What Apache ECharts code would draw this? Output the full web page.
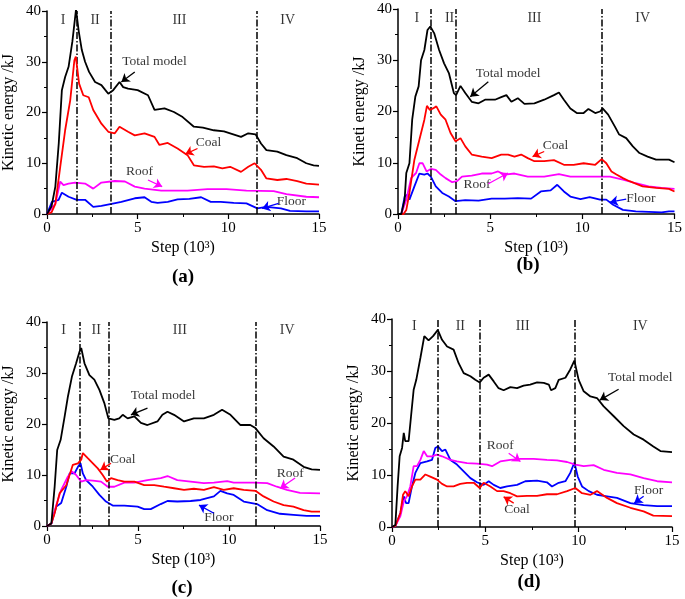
<!DOCTYPE html>
<html>
<head>
<meta charset="utf-8">
<script src="https://cdn.jsdelivr.net/npm/echarts@6/dist/echarts.min.js"></script>
<style>
  html, body { margin: 0; padding: 0; background: #fff; }
  #main { width: 685px; height: 599px; }
</style>
</head>
<body>
<div id="main"></div>
<script>
// ---- data (step in 10^3, kinetic energy in kJ) ----
var totalA = [[0,0],[0.25,1.5],[0.46,5.4],[0.65,14],[0.82,24.4],[1.0,27],[1.19,29],[1.4,34],[1.6,40.3],[1.75,36],[1.92,32.3],[2.1,30],[2.32,28],[2.65,26],[3.0,25.4],[3.2,24.5],[3.38,23.7],[3.65,24.4],[4.0,26],[4.2,25],[4.47,24.7],[5.0,24.4],[5.57,23.4],[5.93,20.5],[6.48,20.8],[7.0,20.1],[7.48,19.1],[8.1,17.2],[8.6,17],[9.2,16.5],[9.76,16.3],[10.1,15.9],[10.7,15.2],[11.1,15.9],[11.5,15.7],[11.8,13.9],[12.1,12.6],[12.7,12.3],[13.2,11.6],[13.8,11],[14.3,10],[14.7,9.6],[15,9.5]];
var coalA = [[0,0],[0.25,0.3],[0.46,2],[0.73,9.3],[1.0,16.5],[1.28,22.4],[1.51,30.3],[1.59,31],[1.77,25.7],[2.0,23.4],[2.3,23],[2.55,20.5],[3.0,17.8],[3.38,16.2],[3.74,15.9],[4.0,17.2],[4.47,16.2],[4.84,15.5],[5.38,15.9],[5.93,15.2],[6.2,13.6],[6.66,14],[7.2,12.9],[7.75,11.6],[8.1,9.6],[8.66,9.3],[9.2,9.4],[9.67,9],[10.1,9.3],[10.7,8.3],[11.1,9.3],[11.45,10],[11.8,8.7],[12.1,7],[12.7,6.7],[13.2,6.9],[13.8,6.5],[14.3,6],[15,5.8]];
var roofA = [[0,0],[0.46,2],[0.73,6.4],[0.91,5.7],[1.19,6],[1.55,6.2],[2.1,6],[2.55,5],[3.0,6.2],[3.74,6.5],[4.3,6.4],[4.84,5.4],[5.38,5],[6.3,4.6],[7.75,4.6],[8.85,4.9],[9.9,4.9],[11.0,4.6],[12.5,4.5],[13.2,3.9],[14.3,3.4],[15,3.3]];
var floorA = [[0,0],[0.27,2.4],[0.64,2.8],[0.82,4.2],[1.19,3.4],[1.64,2.8],[2.1,2.8],[2.55,1.4],[3.0,1.6],[3.56,2],[4.1,2.4],[4.84,3.1],[5.38,3.3],[5.75,2.4],[6.1,2.2],[6.66,2.4],[7.2,2.9],[7.85,3],[8.5,3.3],[9.03,2.4],[9.58,2.4],[10.3,2.2],[11.0,2.1],[11.6,1.1],[12.1,1.4],[12.9,1.1],[13.4,0.6],[14.3,0.5],[15,0.5]];

var totalB = [[0,0],[0.18,0],[0.36,2.8],[0.45,8],[0.62,9.9],[0.77,18.4],[0.94,22.9],[1.12,24.9],[1.25,30],[1.43,32],[1.6,35.9],[1.75,36.6],[1.96,35.3],[2.23,32],[2.5,29.4],[2.76,27.5],[3.03,23.6],[3.15,23.2],[3.39,25],[3.65,23.6],[4.0,21.9],[4.37,21.6],[4.72,22.3],[5.26,22.3],[5.6,22.8],[5.88,23.2],[6.15,21.9],[6.5,22.6],[6.86,21.5],[7.4,21.6],[7.93,22.3],[8.46,23.2],[8.73,23.7],[9.0,22.3],[9.35,20.6],[9.7,19.7],[10.07,19.7],[10.33,20.5],[10.7,19.7],[10.96,20],[11.1,20.6],[11.4,19.4],[11.76,17.1],[12.0,15.5],[12.38,14.8],[12.74,13.2],[13.1,11.9],[13.54,11.2],[14.0,10.6],[14.7,10.6],[15,10.1]];
var coalB = [[0,0],[0.3,0],[0.45,0.8],[0.62,4.1],[0.89,10.6],[1.16,14.5],[1.43,18.4],[1.57,21.1],[1.73,20.3],[1.9,20.6],[2.08,21],[2.32,19.4],[2.58,18.4],[2.85,15.8],[3.12,14.2],[3.39,14.8],[3.65,13.2],[4.0,11.6],[4.54,11.2],[5.08,10.9],[5.6,11.6],[5.97,11.6],[6.32,11.2],[6.68,11.6],[7.04,10.9],[7.4,10.3],[7.93,10.3],[8.46,10.5],[9.0,9.6],[9.53,9.6],[10.07,9.9],[10.7,9.6],[11.05,10.7],[11.3,9.9],[11.58,8.3],[11.85,7.7],[12.2,7],[12.56,6.4],[13.27,5.4],[14.0,5.1],[14.7,4.9],[15,4.4]];
var roofB = [[0,0],[0.18,0],[0.45,2.8],[0.71,7],[0.98,8],[1.16,9.9],[1.34,9.9],[1.55,8.3],[1.78,8.8],[2.05,8.6],[2.32,7.7],[2.58,7],[2.94,6.2],[3.2,6.4],[3.47,7.3],[4.0,7.5],[4.54,7.9],[5.08,7.9],[5.43,8.3],[5.79,7.7],[6.32,7.9],[7.04,7.3],[7.93,7.3],[8.73,7.8],[9.35,7.3],[10.4,7.3],[11.5,7.3],[12.2,6.7],[12.9,6],[13.6,5.4],[14.3,5.1],[15,4.9]];
var floorB = [[0,0],[0.18,0],[0.36,3.4],[0.53,3.8],[0.62,2.8],[0.89,5.4],[1.16,7.9],[1.43,7.7],[1.6,7.9],[1.78,7.3],[2.05,5.4],[2.4,4.1],[2.76,3.4],[3.12,2.5],[3.65,2.7],[4.37,2.6],[5.08,3],[5.79,3],[6.5,3.1],[7.22,3],[7.75,4.4],[8.28,4.6],[8.64,5.7],[9.0,4.4],[9.35,3.4],[9.9,2.9],[10.4,3.3],[10.96,2.8],[11.3,2.8],[11.67,1.8],[12.2,0.8],[12.9,0.5],[14.3,0.3],[14.7,0.5],[15,0.5]];

var totalC = [[0,0],[0.24,0.5],[0.42,7.7],[0.56,14.9],[0.75,16.9],[0.97,21.5],[1.15,25.4],[1.37,29.3],[1.6,31.9],[1.79,34.2],[1.88,34.9],[2.06,31.9],[2.33,29.6],[2.6,28.7],[2.88,26.7],[3.15,24.1],[3.37,21.1],[3.7,20.8],[3.97,21.1],[4.16,21.8],[4.43,21.1],[4.8,21.5],[5.16,20.2],[5.52,19.8],[6.07,20.5],[6.34,21.8],[6.62,22.4],[6.98,21.8],[7.53,20.5],[8.07,21.1],[8.62,21.1],[9.17,21.8],[9.62,22.8],[10.08,21.8],[10.63,19.8],[11.17,19.8],[11.45,19.2],[11.9,17.2],[12.45,15.6],[13.0,13.6],[13.54,13],[14.1,11.6],[14.54,11.1],[15,11]];
var coalC = [[0,0],[0.24,0.5],[0.42,2.5],[0.69,6.4],[1.06,8],[1.42,12],[1.7,12.3],[1.88,13],[1.97,14.3],[2.24,13.3],[2.52,12.3],[2.79,11.3],[3.06,10],[3.3,8.7],[3.52,9.4],[3.88,9],[4.25,8.7],[4.8,8.7],[5.34,8],[5.89,8],[6.43,7.7],[6.98,7.4],[7.53,7.1],[8.07,7.3],[8.62,7.1],[9.17,7.6],[9.71,7.1],[10.26,7.4],[10.81,7.1],[11.45,6.9],[11.9,5.8],[12.45,4.8],[13.0,4.1],[13.54,3.8],[14.1,3.1],[14.54,2.8],[15,2.8]];
var roofC = [[0,0],[0.24,0.5],[0.51,4.1],[0.78,7.1],[1.15,9.7],[1.37,10.7],[1.6,10],[1.88,8.7],[2.15,9],[2.52,8.9],[2.97,8.7],[3.34,7.7],[3.7,7.7],[4.25,8.5],[4.8,8.5],[5.52,9],[6.25,9.4],[6.62,9.8],[7.16,9],[7.89,8.7],[8.62,8.4],[9.17,8.5],[9.9,8.8],[10.26,8.5],[11.35,8.5],[12.1,8.4],[12.63,7.7],[13.18,7.1],[13.9,6.5],[15,6.4]];
var floorC = [[0,0],[0.24,0.5],[0.51,3.8],[0.78,4.5],[1.06,7.7],[1.24,10.3],[1.51,10.3],[1.7,11.6],[1.84,12.3],[1.97,10.3],[2.15,9],[2.52,7.7],[2.88,6.1],[3.24,4.8],[3.61,4],[4.25,4],[4.98,3.8],[5.34,3.3],[5.7,3.3],[6.25,4.3],[6.62,4.9],[7.16,4.8],[7.89,4.9],[8.44,5.1],[9.17,5.8],[9.53,6.9],[9.9,6.4],[10.26,6.1],[10.81,4.8],[11.54,4.3],[12.1,3.1],[12.8,2.4],[13.54,2.2],[14.27,2],[15,2]];

var totalD = [[0,0],[0.18,0.4],[0.3,7.8],[0.41,13.6],[0.54,15.2],[0.63,18.1],[0.71,16.5],[0.89,16.5],[1.02,21.3],[1.16,26.4],[1.3,28.3],[1.52,32.5],[1.73,36.7],[1.96,35.9],[2.2,36.7],[2.45,37.9],[2.68,36],[2.95,34.7],[3.3,34.1],[3.57,31.5],[3.84,29.6],[4.2,29],[4.46,28.3],[4.7,27.8],[4.91,28.7],[5.18,29.3],[5.45,28],[5.71,26.7],[5.98,26.3],[6.34,26.9],[6.7,26.7],[7.05,27.2],[7.4,27.4],[7.77,27.8],[8.13,27.7],[8.4,27.4],[8.52,26.3],[8.75,26.7],[8.93,28.3],[9.29,28.7],[9.55,30.3],[9.77,32],[10.0,28.3],[10.27,26.1],[10.63,25.1],[10.98,24.8],[11.34,23.2],[11.88,21.3],[12.41,19.4],[12.95,17.8],[13.48,16.8],[14.0,15.5],[14.38,14.6],[15,14.4]];
var coalD = [[0,0],[0.18,0.2],[0.45,2.7],[0.59,6.2],[0.71,6.9],[0.89,5.9],[1.07,7.8],[1.25,9.1],[1.52,9.1],[1.79,10.1],[2.05,9.7],[2.41,9.1],[2.68,8.3],[2.95,7.8],[3.3,7.8],[3.66,8.3],[4.02,8.5],[4.38,8.5],[4.7,7.5],[4.91,8.5],[5.27,7.8],[5.63,6.9],[5.98,6.9],[6.34,6.5],[6.7,5.9],[7.23,6],[7.77,6],[8.3,6.3],[8.84,6.3],[9.38,6.9],[9.82,7.5],[10.18,6.5],[10.63,6.2],[10.98,6.9],[11.52,5.6],[12.05,4.6],[12.77,3.7],[13.48,3],[14.0,2.2],[15,2.1]];
var roofD = [[0,0],[0.18,0.2],[0.45,2.1],[0.63,4.9],[0.8,5.9],[0.98,7.8],[1.16,11.7],[1.34,11.7],[1.52,12.9],[1.7,14.6],[1.88,13.6],[2.14,13.6],[2.41,13.9],[2.68,13.6],[3.13,12.9],[3.48,12.6],[4.02,12.3],[4.55,12.2],[5.09,12],[5.36,11.7],[5.8,12.6],[6.34,12.9],[6.88,13.1],[7.59,13.1],[8.3,12.9],[8.84,12.8],[9.38,12.5],[9.82,12],[10.27,11.7],[10.8,11.9],[11.34,11],[12.05,10.4],[12.77,10.1],[13.48,9.4],[14.2,8.8],[15,8.6]];
var floorD = [[0,0],[0.18,0.2],[0.45,2.7],[0.63,5.9],[0.75,4.6],[0.89,4.6],[1.07,7.8],[1.25,10.4],[1.52,12.3],[1.88,12.6],[2.14,12.9],[2.32,15.2],[2.46,15.5],[2.68,14.6],[2.86,14.9],[3.13,12.9],[3.48,12],[3.84,10.7],[4.2,9.4],[4.55,8.6],[4.91,8.1],[5.18,8.8],[5.45,8.1],[5.8,7.5],[6.16,7.8],[6.7,8.1],[7.14,8.8],[7.77,8.9],[8.3,8.6],[8.57,7.8],[8.93,8.5],[9.29,8.8],[9.55,10.4],[9.77,12.4],[9.95,9.7],[10.18,7.8],[10.54,6.9],[10.98,6.2],[11.52,5.9],[12.05,5.6],[12.77,4.6],[13.48,4.2],[14.2,4],[15,4]];

// stage boundaries
var stagesA = [1.62, 3.49, 11.55];
var stagesB = [1.75, 3.12, 11.05];
var stagesC = [1.79, 3.37, 11.45];
var stagesD = [2.46, 4.68, 9.79];

// stage names [x, y, text]
var romanA = [[0.88,38.2,'I'],[2.65,38.2,'II'],[7.3,38.2,'III'],[13.27,38.2,'IV']];
var romanB = [[1.02,38.2,'I'],[2.8,38.2,'II'],[7.4,38.2,'III'],[13.27,38.2,'IV']];
var romanC = [[0.91,38.3,'I'],[2.7,38.3,'II'],[7.3,38.3,'III'],[13.2,38.3,'IV']];
var romanD = [[1.2,38.6,'I'],[3.66,38.6,'II'],[7.0,38.6,'III'],[13.3,38.6,'IV']];

// annotations: [textX, textY, arrowFromX, arrowFromY, arrowToX, arrowToY]
var noteA = {total:[5.93,30,4.84,28,4.1,26], coal:[8.9,14,8.3,12.9,7.63,11.8], roof:[5.1,8.3,5.57,6.7,6.35,5.4], floor:[13.47,2.4,12.77,2.1,11.86,1.1]};
var noteB = {total:[5.97,27.5,4.9,25.8,3.92,22.9], coal:[8.55,13.4,7.93,12.2,7.3,11.2], roof:[4.28,5.7,4.9,5.9,5.97,8], floor:[13.18,3,12.38,2.9,11.5,2.3]};
var noteC = {total:[6.38,25.5,5.52,23.1,4.61,21.8], coal:[4.16,13.1,3.52,12.3,2.93,11], roof:[13.36,10.3,13.63,9.4,12.81,7.4], floor:[9.44,1.7,9.17,2.5,8.35,4.1]};
var noteD = {total:[13.3,28.8,12.14,26.5,11.13,24.4], coal:[6.7,3.3,6.52,4.6,5.98,5.8], roof:[5.8,15.6,6.25,14.2,6.88,12.6], floor:[13.75,7,13.48,5.9,12.98,4.6]};

var panels = [
  {tag:'(a)', yName:'Kinetic energy /kJ', grid:{left:45, top:11, right:366, bottom:385}, title:[183,277], data:[totalA,coalA,roofA,floorA], stages:stagesA, roman:romanA, note:noteA},
  {tag:'(b)', yName:'Kineti energy /kJ', grid:{left:398, top:9, right:6, bottom:385}, title:[528,265], data:[totalB,coalB,roofB,floorB], stages:stagesB, roman:romanB, note:noteB},
  {tag:'(c)', yName:'Kinetic energy /kJ', grid:{left:46, top:322, right:365, bottom:73}, title:[182,588], data:[totalC,coalC,roofC,floorC], stages:stagesC, roman:romanC, note:noteC},
  {tag:'(d)', yName:'Kinetic energy /kJ', grid:{left:392, top:319, right:13, bottom:72}, title:[529,582], data:[totalD,coalD,roofD,floorD], stages:stagesD, roman:romanD, note:noteD}
];

var names = ['Total model', 'Coal', 'Roof', 'Floor'];
var keys = ['total', 'coal', 'roof', 'floor'];
var colors = ['#000000', '#ff0000', '#ff00ff', '#0000ff'];
var font = '"Liberation Serif", "Times New Roman", serif';

var grids = [], xAxes = [], yAxes = [], series = [], graphics = [];

panels.forEach(function (p, i) {
  grids.push(p.grid);
  xAxes.push({
    gridIndex: i, type: 'value', min: 0, max: 15, interval: 5,
    name: 'Step (10³)', nameLocation: 'middle', nameGap: 26,
    nameTextStyle: {fontFamily: font, fontSize: 16, color: '#000'},
    axisLine: {lineStyle: {color: '#000', width: 1.5}},
    axisTick: {length: 5, lineStyle: {width: 1.2}},
    minorTick: {show: true, splitNumber: 2, length: 3, lineStyle: {color: '#000', width: 1}},
    axisLabel: {fontFamily: font, fontSize: 15, color: '#000', margin: 7},
    splitLine: {show: false}
  });
  yAxes.push({
    gridIndex: i, type: 'value', min: 0, max: 40, interval: 10,
    name: p.yName, nameLocation: 'middle', nameGap: 30,
    nameTextStyle: {fontFamily: font, fontSize: 16, color: '#000'},
    axisLine: {show: true, lineStyle: {color: '#000', width: 1.5}},
    axisTick: {show: true, length: 5, lineStyle: {width: 1.2}},
    minorTick: {show: true, splitNumber: 2, length: 3, lineStyle: {color: '#000', width: 1}},
    axisLabel: {fontFamily: font, fontSize: 15, color: '#000', margin: 6},
    splitLine: {show: false}
  });

  // stage lines
  series.push({
    type: 'line', xAxisIndex: i, yAxisIndex: i, data: [], silent: true,
    markLine: {
      symbol: 'none', silent: true, animation: false, label: {show: false},
      lineStyle: {color: '#000', width: 1.5, type: [7, 2, 1.5, 2]},
      data: p.stages.map(function (s) { return {xAxis: s}; })
    }
  });

  // curves with arrows
  p.data.forEach(function (d, k) {
    var n = p.note[keys[k]];
    series.push({
      name: names[k], type: 'line', xAxisIndex: i, yAxisIndex: i,
      data: d, showSymbol: false, animation: false, z: 6 - k,
      lineStyle: {color: colors[k], width: 1.8}, itemStyle: {color: colors[k]},
      markLine: {
        silent: true, animation: false, symbol: ['none', 'arrow'], symbolSize: 8,
        label: {show: false}, lineStyle: {color: colors[k], width: 1.3, type: 'solid'},
        data: [[{coord: [n[2], n[3]], symbol: 'none'}, {coord: [n[4], n[5]], symbol: 'arrow', symbolSize: 8}]]
      }
    });
    series.push({
      type: 'scatter', xAxisIndex: i, yAxisIndex: i, symbolSize: 0, silent: true, animation: false,
      data: [[n[0], n[1], names[k]]],
      label: {show: true, position: 'inside', formatter: function (q) { return q.value[2]; },
        fontFamily: font, fontSize: 13.5, color: '#000'}
    });
  });

  // stage names
  series.push({
    type: 'scatter', xAxisIndex: i, yAxisIndex: i, symbolSize: 0, silent: true, animation: false,
    data: p.roman,
    label: {show: true, position: 'inside', formatter: function (q) { return q.value[2]; },
      fontFamily: font, fontSize: 14, color: '#000'}
  });

  graphics.push({
    type: 'text', x: p.title[0], y: p.title[1],
    style: {text: p.tag, fontFamily: font, fontSize: 19, fontWeight: 'bold', fill: '#000',
      textAlign: 'center', textVerticalAlign: 'middle'}
  });
});

var myChart = echarts.init(document.getElementById('main'));
var option = {
  animation: false,
  backgroundColor: '#fff',
  grid: grids,
  xAxis: xAxes,
  yAxis: yAxes,
  series: series,
  graphic: graphics
};
myChart.setOption(option, true);
</script>
</body>
</html>
